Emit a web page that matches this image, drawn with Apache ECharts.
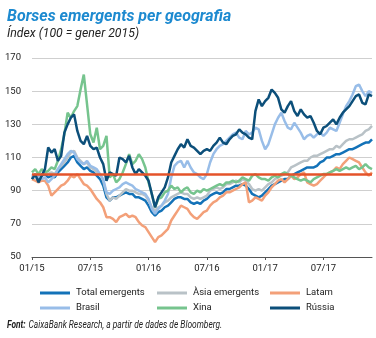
<!DOCTYPE html>
<html><head><meta charset="utf-8">
<script src="https://cdn.jsdelivr.net/npm/echarts@6/dist/echarts.min.js"></script>
<style>html,body{margin:0;padding:0;background:#fff}#c{width:376px;height:338px}</style>
</head><body><div id="c"></div>
<script>
// Dates: 1st, 11th, 21st of each month, Jan 2015 .. Dec 2017
const dates = [];
for (let k = 0; k <= 105; k++) {
  const m = Math.floor(k / 3), d = [1, 11, 21][k % 3];
  const y = 2015 + Math.floor(m / 12), mo = (m % 12) + 1;
  dates.push(y + '-' + String(mo).padStart(2, '0') + '-' + String(d).padStart(2, '0'));
}
const tickLabels = ['01/15', '07/15', '01/16', '07/16', '01/17', '07/17'];
const yTicks = [50, 70, 90, 110, 130, 150, 170];
const baseLevel = 100;

const totalEmergents = [97,99,97,99,100,98,99,98,101,103,105,107,110,111,107,105,103,104,102,101,99,97,93,86,84,86,86,87,88,89,88,88,86,86,85,84,81,77,75,77,78,80,81,83,85,86,86,85,85,83,82,83,82,84,85,87,88,89,88,89,91,91,92,93,93,94,93,91,88,87,86,87,89,91,93,94,95,96,97,97,99,100,101,102,103,104,104,104,105,107,108,110,110,111,112,112,113,114,115,115,116,117,118,119,119,121];
const asiaEmergents = [98,100,98,100,101,100,101,100,103,105,107,110,113,114,110,108,106,107,104,103,101,100,96,88,84,86,85,87,89,91,90,90,89,88,88,87,84,80,78,80,81,83,84,86,87,88,89,88,88,86,85,86,85,86,87,90,91,92,91,92,94,94,95,96,95,97,96,94,91,90,91,90,92,94,95,97,98,99,100,101,104,105,106,107,108,108,110,111,111,112,113,114,115,115,117,116,118,120,121,121,122,123,124,126,127,129];
const latam = [97,96,95,96,96,93,87,89,91,93,94,96,99,98,100,97,94,93,91,88,85,83,80,74,74,73,71,74,75,76,74,75,74,71,69,68,65,62,59,62,63,65,67,72,75,78,81,80,79,76,74,73,75,77,78,81,83,84,86,87,89,89,90,91,92,94,95,83,84,86,85,84,87,89,92,94,96,97,95,97,99,97,98,100,101,95,94,93,94,96,98,100,101,102,104,103,106,108,110,109,108,107,104,101,99,101];
const brasil = [100,98,99,97,98,95,97,99,103,106,109,112,114,113,109,107,106,108,105,104,103,100,97,89,88,90,91,92,94,95,94,93,91,90,89,88,85,79,76,79,81,84,88,98,105,107,108,104,108,104,101,100,98,97,100,107,112,115,117,118,120,122,124,125,122,121,126,124,125,128,127,120,115,118,124,130,134,137,132,128,127,131,128,125,121,123,124,122,124,125,123,125,128,127,126,131,136,141,144,148,153,154,150,147,150,149];
const xina = [101,103,100,103,101,102,104,103,108,115,124,137,134,138,141,151,160,142,124,119,128,115,117,123,98,100,95,97,101,106,112,106,108,112,109,104,95,88,80,85,86,89,90,93,91,92,89,91,92,89,88,90,89,91,90,91,92,93,94,93,95,95,96,95,96,98,97,96,99,100,98,97,97,96,98,99,98,100,101,100,99,98,97,96,97,96,95,97,98,99,100,100,101,102,103,102,103,104,103,104,105,103,104,106,104,103];
const russia = [97,100,95,99,103,116,113,115,108,111,125,130,134,136,126,120,118,123,117,115,116,110,106,96,101,100,99,110,109,107,111,104,100,103,101,99,96,88,80,86,89,92,98,107,111,115,118,116,121,117,116,114,112,114,115,114,117,119,122,119,118,121,123,124,127,125,124,122,121,138,145,141,144,146,151,149,146,139,137,141,144,138,135,139,136,134,135,131,126,124,128,129,131,133,130,134,137,139,141,144,147,148,143,142,148,147];

const seriesDefs = [
  {name: 'Total emergents', data: totalEmergents, color: '#1372b8'},
  {name: 'Àsia emergents', data: asiaEmergents, color: '#b9c2c7'},
  {name: 'Latam', data: latam, color: '#f3a079'},
  {name: 'Brasil', data: brasil, color: '#98bde8'},
  {name: 'Xina', data: xina, color: '#76c48e'},
  {name: 'Rússia', data: russia, color: '#0c4f7a'}
];
const FONT = 'Roboto, "Noto Sans", sans-serif';

const legendPos = [[40, 288], [157, 288], [270, 288], [40, 303], [157, 303], [270, 303]];
const legends = seriesDefs.map((s, i) => ({
  data: [s.name], left: legendPos[i][0], top: legendPos[i][1], orient: 'horizontal',
  icon: 'rect', itemWidth: 30, itemHeight: 3, itemGap: 0, padding: 0,
  textStyle: {fontSize: 9.5, color: '#222', fontFamily: FONT, padding: [0, 0, 0, 1]}
}));

const series = seriesDefs.map((s, i) => {
  const o = {
    name: s.name, type: 'line', data: s.data, showSymbol: false, symbol: 'none',
    lineStyle: {color: s.color, width: 2.5}, itemStyle: {color: s.color},
    animation: false, silent: true
  };
  if (i === seriesDefs.length - 1) {
    o.markLine = {silent: true, symbol: 'none', animation: false, label: {show: false},
      lineStyle: {color: '#e4532a', width: 2.5, type: 'solid'}, data: [{yAxis: baseLevel}]};
  }
  return o;
});

const chart = echarts.init(document.getElementById('c'), null, {renderer: 'canvas'});
chart.setOption({
  animation: false,
  backgroundColor: '#fff',
  graphic: [
    {type: 'text', x: 7, y: 8, scaleX: 0.94, silent: true,
     style: {text: 'Borses emergents per geografia', fontSize: 17, fontWeight: 'bold', fontStyle: 'italic',
       fill: '#1d8ad0', fontFamily: FONT, textVerticalAlign: 'top'}},
    {type: 'text', x: 7, y: 27, scaleX: 0.98, silent: true,
     style: {text: 'Índex (100 = gener 2015)', fontSize: 12.5, fontStyle: 'italic',
       fill: '#222', fontFamily: FONT, textVerticalAlign: 'top'}},
    {type: 'text', x: 7, y: 319, scaleX: 0.84, silent: true,
     style: {text: '{b|Font:} {n|CaixaBank Research, a partir de dades de Bloomberg.}', textVerticalAlign: 'top',
       rich: {
         b: {fontSize: 10, fontWeight: 'bold', fontStyle: 'italic', fill: '#222', fontFamily: FONT},
         n: {fontSize: 10, fontStyle: 'italic', fill: '#222', fontFamily: FONT}}}}
  ],
  legend: legends,
  grid: {left: 32, right: 4, top: 58, bottom: 81, containLabel: false},
  xAxis: {
    type: 'category', data: dates, boundaryGap: false,
    axisLine: {lineStyle: {color: '#555', width: 1}},
    axisTick: {show: true, interval: 17, length: 3, lineStyle: {color: '#555'}},
    axisLabel: {interval: 17, margin: 7, fontSize: 9.5, color: '#222', fontFamily: FONT,
      formatter: (v, idx) => tickLabels[Math.round(idx / 18)] || ''},
    splitLine: {show: false}
  },
  yAxis: {
    type: 'value', min: yTicks[0], max: yTicks[yTicks.length - 1], interval: 20,
    axisLine: {show: false}, axisTick: {show: false},
    axisLabel: {fontSize: 9.5, color: '#222', margin: 11, fontFamily: FONT},
    splitLine: {lineStyle: {color: '#cfcfcf', width: 1}}
  },
  series: series
});
</script></body></html>
